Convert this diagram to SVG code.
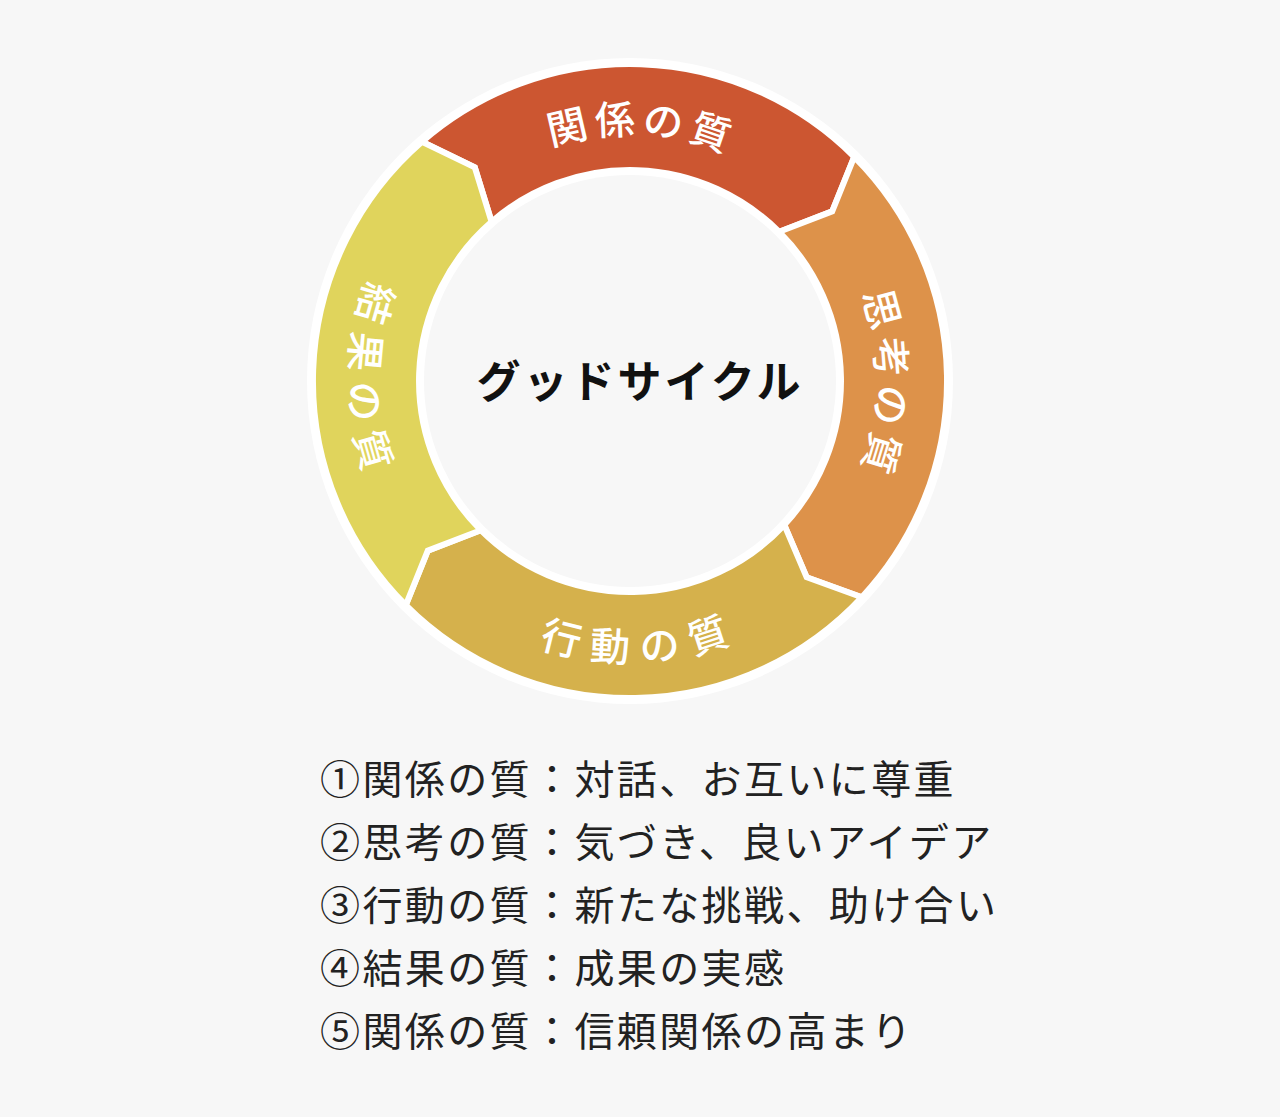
<svg xmlns="http://www.w3.org/2000/svg" width="1280" height="1117" viewBox="0 0 1280 1117">
<style>
.seg{stroke:#fff;stroke-width:6;stroke-linejoin:miter}
.lbl{font-family:"Noto Sans CJK JP","Noto Sans CJK SC",sans-serif;font-size:40px;font-weight:500;fill:#fff;dominant-baseline:central;letter-spacing:9px}
.list{font-family:"Noto Sans CJK JP","Noto Sans CJK SC",sans-serif;font-size:40px;fill:#222;letter-spacing:2.4px}
</style>
<defs>
<path id="pTop" d="M427.8,211.3 A264,264 0 0 1 832.2,211.3"/>
<path id="pRight" d="M799.7,178.8 A264,264 0 0 1 799.7,583.2"/>
<path id="pBottom" d="M427.8,550.7 A264,264 0 0 0 832.2,550.7"/>
<path id="pLeft" d="M460.3,178.8 A264,264 0 0 0 460.3,583.2"/>
</defs>
<rect width="1280" height="1117" fill="#f7f7f7"/>
<circle cx="630" cy="381" r="323" fill="#fff"/>
<g id="connectors"></g>
<g id="seg-kankei">
<path class="seg" fill="#cc5631" d="M422.0,141.8 A317,317 0 0 1 854.2,156.8 L832.2,211.3 L779.2,231.8 A211,211 0 0 0 491.6,221.8 L474.8,167.4 Z"/>
<text class="lbl"><textPath href="#pTop" startOffset="53%" text-anchor="middle">関係の質</textPath></text>
</g>
<g id="seg-shikou">
<path class="seg" fill="#dd924a" d="M854.2,156.8 A317,317 0 0 1 861.8,597.2 L806.6,577.2 L784.3,524.9 A211,211 0 0 0 779.2,231.8 L832.2,211.3 Z"/>
<text class="lbl"><textPath href="#pRight" startOffset="51%" text-anchor="middle">思考の質</textPath></text>
</g>
<g id="seg-koudou">
<path class="seg" fill="#d5b14c" d="M861.8,597.2 A317,317 0 0 1 405.8,605.2 L427.8,550.7 L480.8,530.2 A211,211 0 0 0 784.3,524.9 L806.6,577.2 Z"/>
<text class="lbl"><textPath href="#pBottom" startOffset="52%" text-anchor="middle">行動の質</textPath></text>
</g>
<g id="seg-kekka">
<path class="seg" fill="#e0d45c" d="M405.8,605.2 A317,317 0 0 1 422.0,141.8 L474.8,167.4 L491.6,221.8 A211,211 0 0 0 480.8,530.2 L427.8,550.7 Z"/>
<text class="lbl"><textPath href="#pLeft" startOffset="50%" text-anchor="middle">結果の質</textPath></text>
</g>
<circle cx="630" cy="381" r="206" fill="#f7f7f7"/>
<g id="center">
<text x="640" y="398" text-anchor="middle" font-family="'Noto Sans CJK JP','Noto Sans CJK SC',sans-serif" font-size="44" font-weight="bold" fill="#111" letter-spacing="3">グッドサイクル</text>
</g>
<g id="list">
<text class="list" x="320" y="794">①関係の質：対話、お互いに尊重</text>
<text class="list" x="320" y="857">②思考の質：気づき、良いアイデア</text>
<text class="list" x="320" y="920">③行動の質：新たな挑戦、助け合い</text>
<text class="list" x="320" y="983">④結果の質：成果の実感</text>
<text class="list" x="320" y="1046">⑤関係の質：信頼関係の高まり</text>
</g>
</svg>
